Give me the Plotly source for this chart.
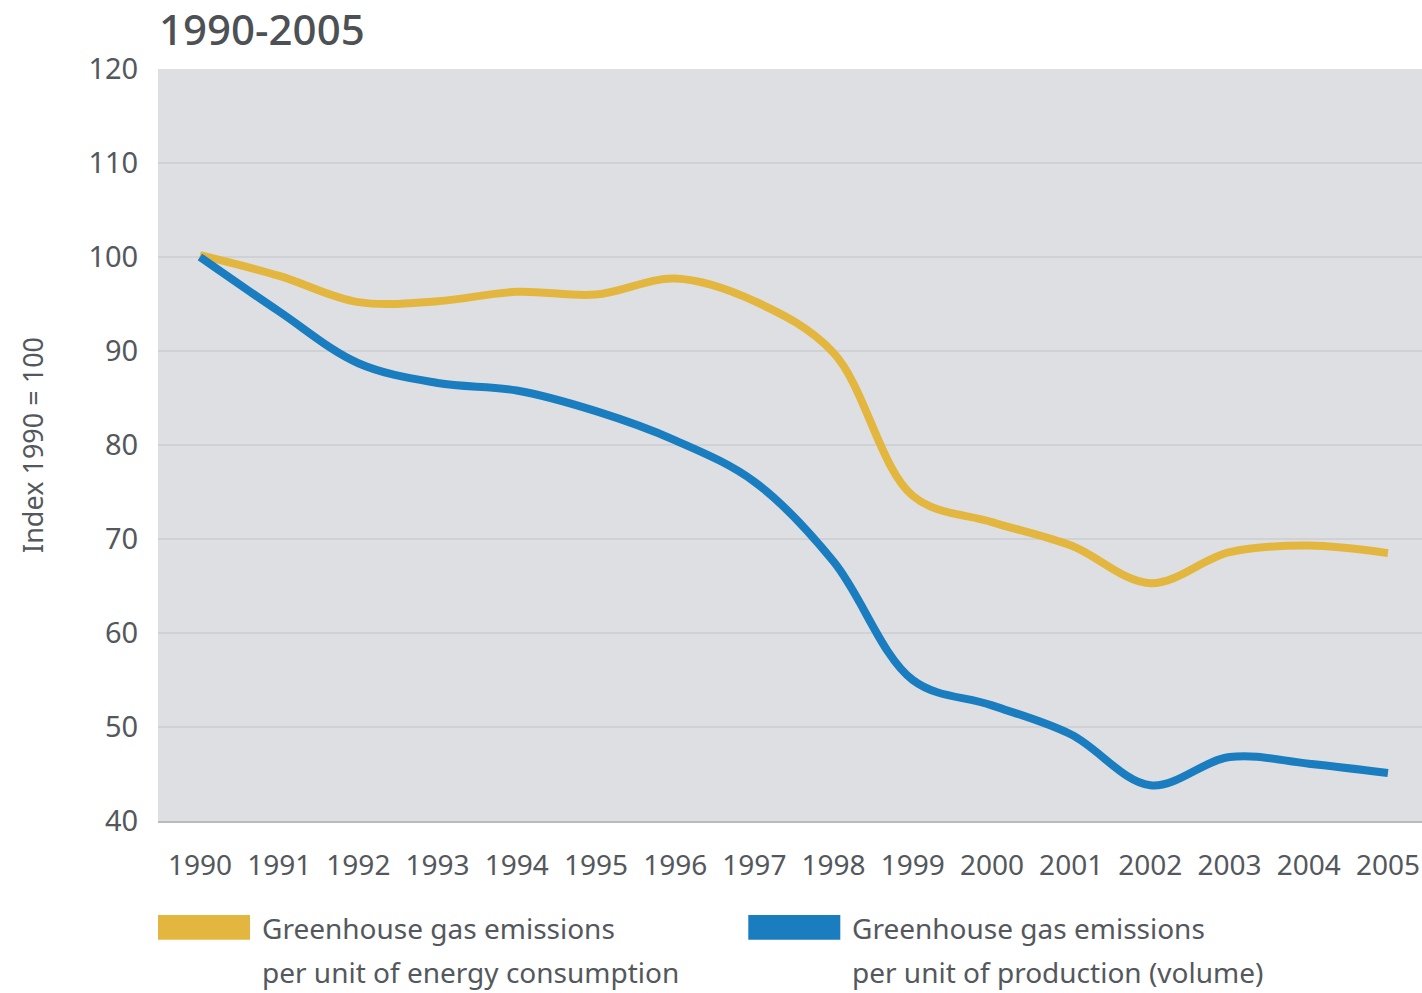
import plotly.graph_objects as go

years = list(range(1990, 2006))
energy_intensity = [100.2, 98.0, 95.2, 95.3, 96.3, 96.0, 97.7, 95.3, 89.8, 74.6, 71.8, 69.3, 65.3, 68.6, 69.3, 68.5]
production_intensity = [100.0, 94.2, 88.7, 86.6, 85.8, 83.6, 80.5, 76.1, 67.6, 55.0, 52.3, 49.2, 43.8, 46.8, 46.1, 45.1]
series_line1 = ["Greenhouse gas emissions", "Greenhouse gas emissions"]
series_line2 = ["per unit of energy consumption", "per unit of production (volume)"]
series_colors = ["#e3b73f", "#1a7dc0"]
y_ticks = [40, 50, 60, 70, 80, 90, 100, 110, 120]
title_text = "1990-2005"
y_title = "Index 1990 = 100"

TEXT = "#54585d"
FONT = "Noto Sans"

fig = go.Figure()
for vals, col in zip([energy_intensity, production_intensity], series_colors):
    fig.add_trace(go.Scatter(x=years, y=vals, mode="lines",
                             line=dict(color=col, width=8, shape="spline", smoothing=1.0),
                             hoverinfo="skip", showlegend=False))

# custom legend (swatch + two-line label)
legend_x = [0.0, 0.467]
for lx, l1, l2, col in zip(legend_x, series_line1, series_line2, series_colors):
    fig.add_shape(type="rect", xref="paper", yref="paper",
                  x0=lx, x1=lx + 0.0728, y0=-0.158, y1=-0.125,
                  fillcolor=col, line=dict(width=0))
    for txt, yy in ((l1, -0.1423), (l2, -0.2008)):
        fig.add_annotation(xref="paper", yref="paper", x=lx + 0.0823, y=yy,
                           xanchor="left", yanchor="middle", align="left",
                           text=txt, showarrow=False, xshift=-2,
                           font=dict(family=FONT, size=28, color=TEXT))

fig.update_layout(
    width=1422, height=993,
    margin=dict(l=158, r=0, t=69, b=172),
    paper_bgcolor="white",
    plot_bgcolor="#dedfe2",
    font=dict(family=FONT, color=TEXT),
    title=dict(text=title_text, xref="container", yref="container",
               x=159 / 1422, xanchor="left", y=1 - 30 / 993, yanchor="middle",
               font=dict(family=FONT, size=42, color="#4d5054", weight=500)),
    xaxis=dict(range=[1989.47, 2005.43], tickmode="array", tickvals=years,
               ticktext=[str(y) for y in years], showgrid=False, zeroline=False,
               showline=True, linecolor="#b9bbbe", linewidth=2,
               ticks="outside", ticklen=18, tickcolor="rgba(0,0,0,0)",
               tickfont=dict(family=FONT, size=28, color=TEXT)),
    yaxis=dict(range=[40, 120], tickmode="array", tickvals=y_ticks,
               showgrid=True, gridcolor="#cfd1d4", gridwidth=1.5, zeroline=False,
               ticks="outside", ticklen=13, tickcolor="rgba(0,0,0,0)",
               tickfont=dict(family=FONT, size=29, color=TEXT),
               title=dict(text=y_title, standoff=36,
                          font=dict(family=FONT, size=27, color=TEXT))),
)

fig.write_html("out.html")
